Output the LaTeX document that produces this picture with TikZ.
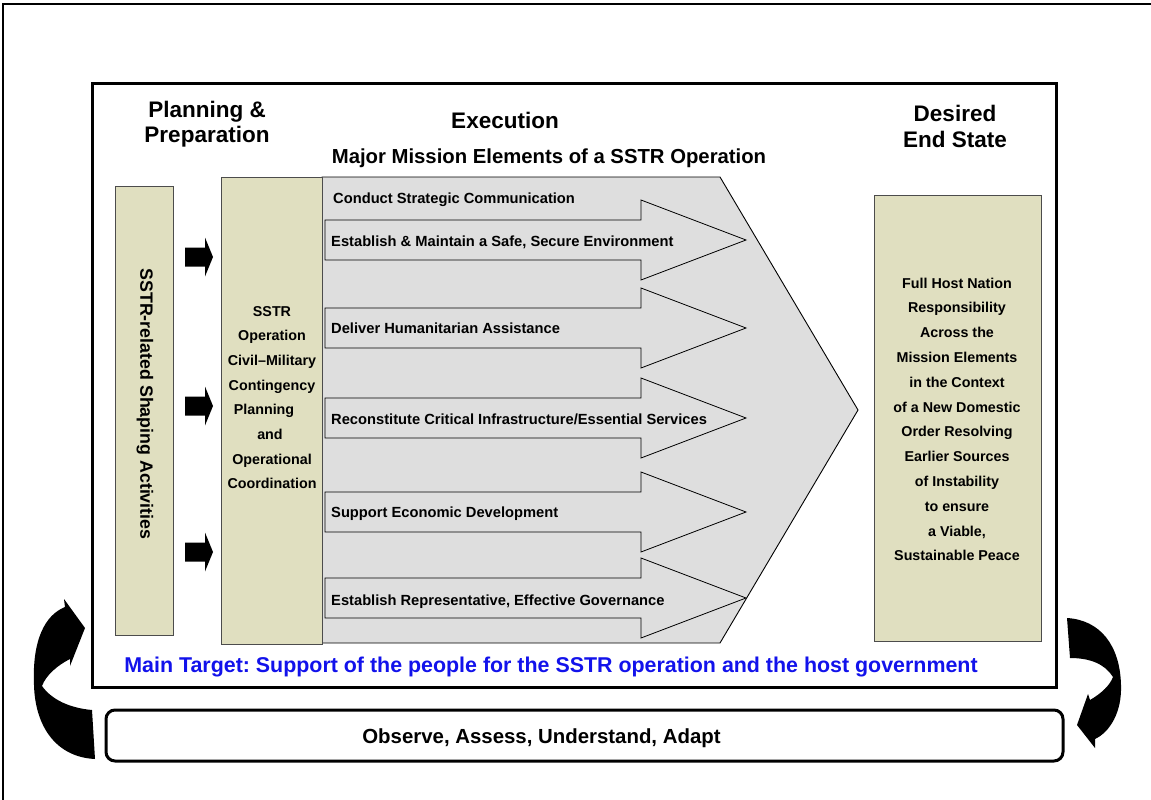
\documentclass[tikz,border=0pt]{standalone}
\usepackage{fontspec}
\setmainfont{Liberation Sans}
\frenchspacing
\definecolor{tanfill}{RGB}{224,223,192}
\definecolor{panelgray}{RGB}{222,222,222}
\definecolor{targetblue}{RGB}{18,18,235}
\begin{document}
\begin{tikzpicture}[x=1pt,y=-1pt,
  tanbox/.style={fill=tanfill,draw=black!70,line width=1pt},
  blockarr/.style={fill=panelgray,draw=black,line width=0.8pt},
  smallarr/.style={fill=black},
  curvearr/.style={fill=black},
  itemlbl/.style={anchor=base west,inner sep=0pt,font=\bfseries\fontsize{14.7}{17}\selectfont},
  boxlbl/.style={anchor=base,inner sep=0pt,font=\bfseries\fontsize{14.3}{17}\selectfont},
  headlbl/.style={anchor=base,inner sep=0pt,font=\bfseries\fontsize{22.5}{26}\selectfont}]
\useasboundingbox (0,0) rectangle (1151,800);
% outer frame (cut by page)
\draw[line width=2pt] (2.5,810) -- (2.5,4) -- (1160,4);
% main frame
\draw[line width=3pt] (92,83) rectangle (1056,687);
% headers
\node[headlbl] (h1) at (207,117) {Planning \&};
\node[headlbl] (h2) at (207,142) {Preparation};
\node[headlbl] (h3) at (505,128) {Execution};
\node[anchor=base,inner sep=0pt,font=\bfseries\fontsize{20.3}{24}\selectfont] (h4) at (549,163) {Major Mission Elements of a SSTR Operation};
\node[headlbl] (h5) at (955,121) {Desired};
\node[headlbl] (h6) at (955,147) {End State};
% left box
\draw[tanbox] (115,186) rectangle (173,635);
\node[rotate=-90,inner sep=0pt,font=\bfseries\fontsize{17.8}{20}\selectfont] (shape) at (145,404) {SSTR-related Shaping Activities};
% small black arrows
\foreach \c [count=\i] in {257,406,552}{
  \fill[smallarr] (185,\c-9.5) -- (205,\c-9.5) -- (205,\c-19.5) -- (213,\c) -- (205,\c+19.5) -- (205,\c+9.5) -- (185,\c+9.5) -- cycle;
}
% execution panel
\draw[fill=panelgray,draw=black,line width=0.9pt] (322,177) -- (720,177) -- (858,410) -- (720,643) -- (322,643) -- cycle;
\foreach \c in {240,328,418,512,598}{
  \draw[blockarr] (325,\c-20) -- (641,\c-20) -- (641,\c-40) -- (746,\c) -- (641,\c+40) -- (641,\c+20) -- (325,\c+20) -- cycle;
}
\node[itemlbl] (m0) at (333,203) {Conduct Strategic Communication};
\node[itemlbl] (m1) at (331,246) {Establish \& Maintain a Safe, Secure Environment};
\node[itemlbl] (m2) at (331,333) {Deliver Humanitarian Assistance};
\node[itemlbl] (m3) at (331,424) {Reconstitute Critical Infrastructure/Essential Services};
\node[itemlbl] (m4) at (331,517) {Support Economic Development};
\node[itemlbl] (m5) at (331,605) {Establish Representative, Effective Governance};
% middle box
\draw[tanbox] (221,177) rectangle (322,644);
\foreach \t/\px [count=\i] in {SSTR/272,Operation/272,Civil--Military/272,Contingency/272,Planning/264,and/270,Operational/272,Coordination/272}{
  \node[boxlbl] (p\i) at (\px,316+24.7*\i-24.7) {\t};
}
% right box
\draw[tanbox] (874,195) rectangle (1041,641);
\foreach \t [count=\i] in {Full Host Nation,Responsibility,Across the,Mission Elements,in the Context,of a New Domestic,Order Resolving,Earlier Sources,of Instability,to ensure,{a Viable,},Sustainable Peace}{
  \node[boxlbl] (e\i) at (957,288+24.8*\i-24.8) {\t};
}
% main target
\node[anchor=base,inner sep=0pt,text=targetblue,font=\bfseries\fontsize{21.4}{25}\selectfont] (target) at (551,672) {Main Target: Support of the people for the SSTR operation and the host government};
% bottom box
\draw[line width=3pt,rounded corners=9pt] (106,710) rectangle (1063,761);
\node[anchor=base,inner sep=0pt,font=\bfseries\fontsize{20.4}{24}\selectfont] (oaua) at (541.5,743) {Observe, Assess, Understand, Adapt};
% left curved arrow
\fill[curvearr] (95,759) .. controls (55,757) and (35,725) .. (34,685)
  .. controls (32,640) and (45,615) .. (65,607) -- (64,599) -- (85,628) -- (70,666) -- (70,659)
  .. controls (58,665) and (46,675) .. (42,686) .. controls (52,700) and (70,708) .. (92,710) -- cycle;
% right curved arrow
\fill[curvearr] (1067,618) .. controls (1100,620) and (1120,645) .. (1121,685)
  .. controls (1122,712) and (1110,732) .. (1095,739) -- (1095,748) -- (1077,725) -- (1088,694) -- (1090,700)
  .. controls (1102,693) and (1110,685) .. (1113,677) .. controls (1105,664) and (1090,658) .. (1070,658) -- cycle;
\end{tikzpicture}
\end{document}
